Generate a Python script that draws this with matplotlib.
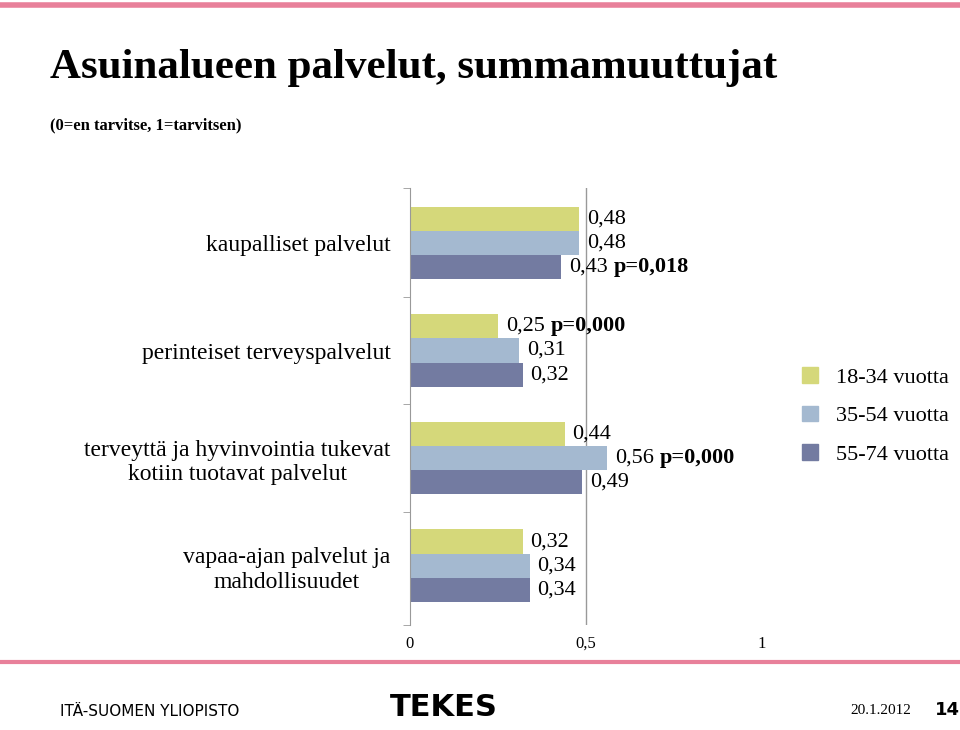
import matplotlib.pyplot as plt
from matplotlib.patches import Patch
import numpy as np

categories = ["kaupalliset palvelut", "perinteiset terveyspalvelut",
              "terveyttä ja hyvinvointia tukevat\nkotiin tuotavat palvelut",
              "vapaa-ajan palvelut ja\nmahdollisuudet"]
series = ["18-34 vuotta", "35-54 vuotta", "55-74 vuotta"]
v1834 = [0.48, 0.25, 0.44, 0.32]
v3554 = [0.48, 0.31, 0.56, 0.34]
v5574 = [0.43, 0.32, 0.49, 0.34]
pvals = {(0, 2): "p=0,018", (1, 0): "p=0,000", (2, 1): "p=0,000"}
colors = ["#d5d87a", "#a4b9d0", "#737ba1"]

plt.rcParams["font.family"] = "Liberation Serif"
fig = plt.figure(figsize=(9.6, 7.3), dpi=100)
ax = fig.add_axes([410 / 960, 105 / 730, 352 / 960, 437 / 730])
ax.axvline(0.5, color="#999999", lw=1, zorder=0)

h = 0.225
y = np.arange(len(categories))
for k, vals in enumerate([v1834, v3554, v5574]):
    pos = y + (k - 1) * h
    ax.barh(pos, vals, height=h, color=colors[k], zorder=2)
    for i, v in enumerate(vals):
        lab = f"{v:.2f}".replace(".", ",")
        ax.text(v + 0.022, pos[i], lab, va="center", ha="left", fontsize=16,
                zorder=3)
        if (i, k) in pvals:
            ax.text(v + 0.15, pos[i], pvals[(i, k)], va="center", ha="left",
                    fontsize=16, fontweight="bold", zorder=3)

ax.set_xlim(0, 1)
ax.set_ylim(3.55, -0.51)
ax.set_xticks([0, 0.5, 1])
ax.set_xticklabels(["0", "0,5", "1"], fontsize=12)
ax.tick_params(axis="x", length=0, pad=8)
ax.set_yticks(y)
ax.set_yticklabels(categories, fontsize=17, ha="right", multialignment="center")
ax.tick_params(axis="y", length=0, pad=14)
ax.set_yticks([-0.51, 0.5, 1.5, 2.5, 3.55], minor=True)
ax.tick_params(axis="y", which="minor", length=5, color="#999999")
for s in ["top", "right", "bottom"]:
    ax.spines[s].set_visible(False)
ax.spines["left"].set_color("#999999")

handles = [Patch(color=c) for c in colors]
fig.legend(handles, series, loc="center left", bbox_to_anchor=(0.815, 0.43),
           frameon=False, fontsize=16, handlelength=0.7, handleheight=0.7,
           labelspacing=0.8, handletextpad=0.8)

fig.text(50 / 960, 1 - 68 / 730, "Asuinalueen palvelut, summamuuttujat",
         fontsize=31, fontweight="bold", va="center")
fig.text(50 / 960, 1 - 125 / 730, "(0=en tarvitse, 1=tarvitsen)",
         fontsize=12, fontweight="bold", va="center")

fig.add_artist(plt.Line2D([0, 1], [1 - 5 / 730] * 2, color="#e8809a", lw=4))
fig.add_artist(plt.Line2D([0, 1], [1 - 662 / 730] * 2, color="#e8809a", lw=3))
fig.text(60 / 960, 1 - 712 / 730, "ITÄ-SUOMEN YLIOPISTO", fontsize=11,
         family="DejaVu Sans", va="center")
fig.text(390 / 960, 1 - 707 / 730, "TEKES", fontsize=22, fontweight="bold",
         family="DejaVu Sans", va="center")
fig.text(850 / 960, 1 - 710 / 730, "20.1.2012", fontsize=11, va="center")
fig.text(935 / 960, 1 - 710 / 730, "14", fontsize=13, fontweight="bold",
         family="DejaVu Sans", va="center")

fig.savefig("out.png", dpi=100)
